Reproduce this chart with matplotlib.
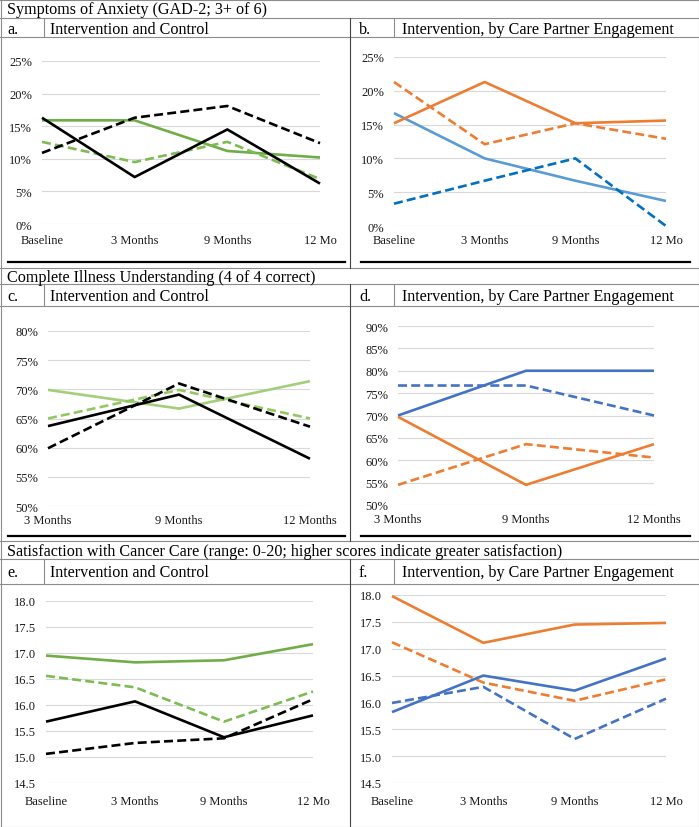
import matplotlib
matplotlib.use("Agg")
import matplotlib.pyplot as plt
from matplotlib.lines import Line2D

plt.rcParams['font.family'] = ['Liberation Serif', 'DejaVu Serif']

W, H = 699, 828

# --- data ---
months4 = ['Baseline', '3 Months', '9 Months', '12 Mo']
months3 = ['3 Months', '9 Months', '12 Months']

# a. anxiety, intervention and control (%)
a_int_pt = [15.9, 15.9, 11.2, 10.2]
a_int_cp = [12.6, 9.5, 12.6, 6.9]
a_ctl_pt = [16.3, 7.2, 14.5, 6.2]
a_ctl_cp = [10.9, 16.3, 18.1, 12.4]

# b. anxiety, by care partner engagement (%)
b_eng_pt = [15.2, 21.3, 15.2, 15.6]
b_eng_cp = [21.3, 12.1, 15.2, 12.9]
b_not_pt = [16.7, 10.0, 6.7, 3.7]
b_not_cp = [3.3, 6.7, 10.0, 0.0]

# c. illness understanding, intervention and control (%)
c_int_pt = [69.9, 66.7, 71.4]
c_int_cp = [65.0, 69.9, 65.0]
c_ctl_pt = [63.7, 69.1, 58.1]
c_ctl_cp = [59.9, 71.0, 63.6]

# d. illness understanding, by care partner engagement (%)
d_not_pt = [70.0, 80.0, 80.0]
d_not_cp = [76.7, 76.7, 70.0]
d_eng_pt = [69.7, 54.5, 63.6]
d_eng_cp = [54.5, 63.6, 60.6]

# e. satisfaction, intervention and control
e_int_pt = [16.95, 16.82, 16.86, 17.17]
e_int_cp = [16.56, 16.34, 15.68, 16.26]
e_ctl_pt = [15.68, 16.07, 15.38, 15.80]
e_ctl_cp = [15.06, 15.27, 15.36, 16.11]

# f. satisfaction, by care partner engagement
f_eng_pt = [17.98, 17.11, 17.45, 17.48]
f_eng_cp = [17.12, 16.37, 16.03, 16.43]
f_not_pt = [15.82, 16.50, 16.22, 16.82]
f_not_cp = [15.99, 16.29, 15.32, 16.07]

fig = plt.figure(figsize=(W / 100, H / 100), dpi=100)
fig.patch.set_facecolor('white')

GRAY = '#8c8c8c'
FS = 11.6
TFS = 9


def hline(y, x0=0, x1=W, lw=0.8, color=GRAY):
    fig.add_artist(Line2D([x0 / W, x1 / W], [1 - y / H, 1 - y / H],
                          lw=lw, color=color, transform=fig.transFigure))


def vline(x, y0, y1, lw=0.8, color=GRAY):
    fig.add_artist(Line2D([x / W, x / W], [1 - y0 / H, 1 - y1 / H],
                          lw=lw, color=color, transform=fig.transFigure))


def text(x, y, s, size=FS):
    fig.text(x / W, 1 - y / H, s, fontsize=size, va='center', ha='left')


def panel(box, labels, ylim, yticks, fmt, series, xpad=6):
    x0, x1, yt, yb = box
    ax = fig.add_axes([x0 / W, 1 - yb / H, (x1 - x0) / W, (yb - yt) / H])
    xs = list(range(len(labels)))
    for vals, col, ls in series:
        ln, = ax.plot(xs, vals, color=col, lw=1.9, solid_capstyle='butt',
                      clip_on=False)
        if ls == 'dash':
            ln.set_dashes((3.4, 1.6))
    ax.set_xlim(0, len(labels) - 1)
    ax.set_ylim(*ylim)
    ax.set_yticks(yticks)
    ax.set_yticklabels([fmt(v) for v in yticks])
    ax.set_xticks(xs)
    ax.set_xticklabels(labels)
    ax.grid(axis='y', color='#d9d9d9', lw=0.8)
    ax.set_axisbelow(True)
    for sp in ax.spines.values():
        sp.set_visible(False)
    ax.tick_params(length=0, labelsize=TFS, colors='#1a1a1a')
    ax.tick_params(axis='y', pad=7)
    ax.tick_params(axis='x', pad=xpad)
    ax.patch.set_alpha(0)
    return ax


pct = lambda v: f"{v}%"
dec = lambda v: f"{v:.1f}"

# --- table frame ---
sections = [
    # header top, header line, subheader line, thick rule, section bottom
    (0, 19, 38, 263, 269, 'Symptoms of Anxiety (GAD-2; 3+ of 6)', 'a.', 'b.'),
    (269, 285, 307, 537, 542, 'Complete Illness Understanding (4 of 4 correct)', 'c.', 'd.'),
    (542, 560, 585, None, 827,
     'Satisfaction with Cancer Care (range: 0-20; higher scores indicate greater satisfaction)', 'e.', 'f.'),
]
for top, hl, sl, rule, bot, title, lt, rt in sections:
    hline(hl)
    hline(sl)
    if bot < 827:
        hline(bot)
    vline(349.5, hl, bot, color='#444444')
    vline(44, hl, sl)
    vline(394, hl, sl)
    if rule is not None:
        hline(rule, 8, 345, lw=1.6, color='black')
        hline(rule, 361, 690, lw=1.6, color='black')
    text(7, (top + hl) / 2 + 1, title)
    text(7, (hl + sl) / 2 + 1, lt)
    text(50, (hl + sl) / 2 + 1, 'Intervention and Control')
    text(359, (hl + sl) / 2 + 1, rt)
    text(402, (hl + sl) / 2 + 1, 'Intervention, by Care Partner Engagement')

# outer border
hline(0.5)
hline(827.5)
vline(0.5, 0, 828)
vline(698.5, 0, 828)

# --- charts ---
GREEN = '#70AD47'
GREEN_D = '#7DBB55'
LGREEN = '#A3CE7C'
LGREEN_D = '#92C862'
ORANGE = '#ED7D31'
BLUE = '#4472C4'
LBLUE = '#5B9BD5'
DBLUE = '#0070C0'

panel((42, 320, 62, 225), months4, (0, 25), [0, 5, 10, 15, 20, 25], pct, [
    (a_int_pt, GREEN, 'solid'), (a_int_cp, GREEN_D, 'dash'),
    (a_ctl_cp, 'black', 'dash'), (a_ctl_pt, 'black', 'solid')], xpad=7)

panel((394, 666, 58, 227), months4, (0, 25), [0, 5, 10, 15, 20, 25], pct, [
    (b_not_pt, LBLUE, 'solid'), (b_not_cp, DBLUE, 'dash'),
    (b_eng_cp, ORANGE, 'dash'), (b_eng_pt, ORANGE, 'solid')], xpad=6)

panel((48, 310, 332, 507), months3, (50, 80), [50, 55, 60, 65, 70, 75, 80], pct, [
    (c_int_pt, LGREEN, 'solid'), (c_int_cp, LGREEN_D, 'dash'),
    (c_ctl_cp, 'black', 'dash'), (c_ctl_pt, 'black', 'solid')], xpad=6)

panel((398, 654, 327, 506), months3, (50, 90), [50, 55, 60, 65, 70, 75, 80, 85, 90], pct, [
    (d_not_pt, BLUE, 'solid'), (d_not_cp, BLUE, 'dash'),
    (d_eng_cp, ORANGE, 'dash'), (d_eng_pt, ORANGE, 'solid')], xpad=6)

panel((46, 313, 602, 784), months4, (14.5, 18.0), [14.5, 15.0, 15.5, 16.0, 16.5, 17.0, 17.5, 18.0], dec, [
    (e_int_pt, GREEN, 'solid'), (e_int_cp, GREEN_D, 'dash'),
    (e_ctl_cp, 'black', 'dash'), (e_ctl_pt, 'black', 'solid')], xpad=8.5)

panel((392, 666, 596, 784), months4, (14.5, 18.0), [14.5, 15.0, 15.5, 16.0, 16.5, 17.0, 17.5, 18.0], dec, [
    (f_eng_pt, ORANGE, 'solid'), (f_eng_cp, ORANGE, 'dash'),
    (f_not_pt, BLUE, 'solid'), (f_not_cp, BLUE, 'dash')], xpad=8.5)

fig.savefig('out.png', dpi=100, facecolor='white')
